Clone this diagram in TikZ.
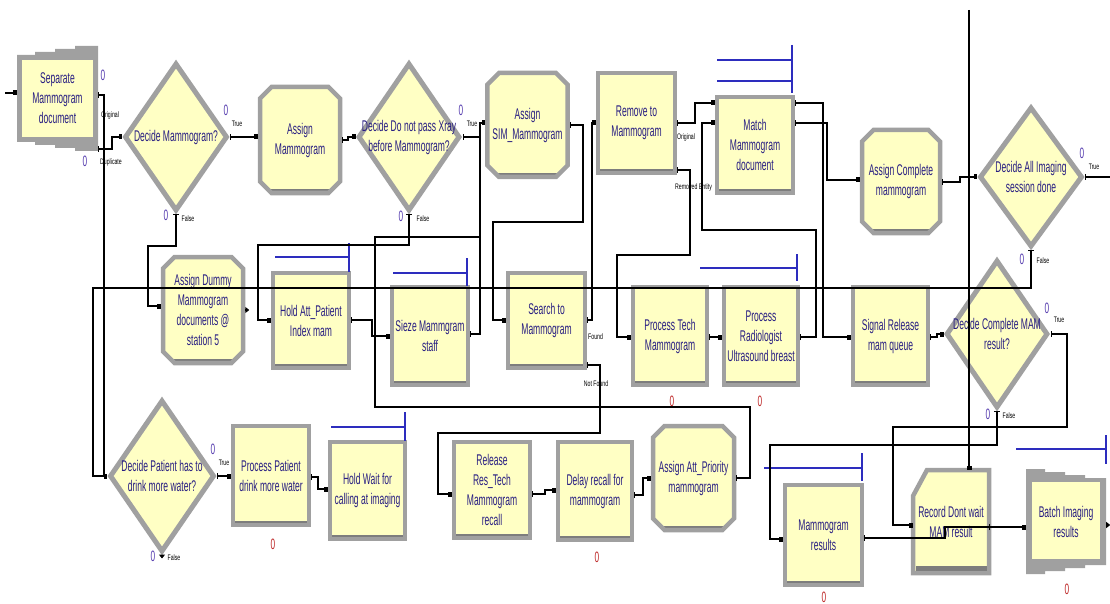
\documentclass[tikz,border=0pt]{standalone}
\usepackage{fontspec}
\setmainfont[FakeStretch=0.55]{Liberation Sans}
\newfontfamily\tagfont[FakeStretch=0.65]{Liberation Sans}
\usetikzlibrary{shapes.geometric,shapes.misc,arrows.meta}

\definecolor{modfill}{RGB}{255,255,196}
\definecolor{frame}{RGB}{160,160,160}
\definecolor{frameshade}{RGB}{125,125,125}
\definecolor{modtext}{RGB}{40,30,130}
\definecolor{qblue}{RGB}{45,45,190}
\definecolor{cntblue}{RGB}{85,60,175}
\definecolor{cntred}{RGB}{190,40,40}

\tikzset{
  modtxt/.style={text=modtext, align=center, inner sep=0pt,
    font=\fontsize{15.5}{20}\selectfont},
  mod/.style={modtxt, rectangle, draw=frame, line width=4.5pt, fill=modfill,
    path picture={\fill[frameshade] (path picture bounding box.south west)
      rectangle ([yshift=4pt]path picture bounding box.south east);}},
  assignmod/.style={mod, chamfered rectangle, chamfered rectangle xsep=5pt,
    chamfered rectangle ysep=6.5pt},
  decide/.style={diamond, draw=frame, line width=5pt, fill=modfill, inner sep=0pt},
  shell/.style={modtxt, rectangle, draw=none},
  frameline/.style={draw=frame, line width=4.5pt, line join=miter},
  conn/.style={draw=black, line width=1.4pt,
    {Bar[width=6pt,line width=1.2pt]}-{Square[length=3.5pt,width=5pt]}},
  connout/.style={draw=black, line width=1.4pt, {Bar[width=6pt,line width=1.2pt]}-},
  connin/.style={draw=black, line width=1.4pt, -{Square[length=3.5pt,width=5pt]}},
  exitonly/.style={draw=black, line width=1.2pt, -{Triangle[length=4pt,width=6pt]}},
  queue/.style={draw=qblue, line width=1.4pt},
  tag/.style={text=black, inner sep=0pt, font=\tagfont\fontsize{8}{9}\selectfont},
  cnt/.style={text=cntblue, inner sep=0pt, font=\fontsize{15}{15}\selectfont},
  cntr/.style={text=cntred, inner sep=0pt, font=\fontsize{15}{15}\selectfont}
}

\begin{document}
\begin{tikzpicture}[x=1pt,y=-1pt]
\fill[white] (0,0) rectangle (1110,604);
\useasboundingbox (0,0) rectangle (1110,604);

% ---------- Separate (stepped frame) ----------
\fill[frame] (17,55) -- (35,55) -- (35,52) -- (55,52) -- (55,49) -- (75,49) -- (75,46)
  -- (98,46) -- (98,151) -- (75,151) -- (75,148) -- (55,148) -- (55,145) -- (35,145)
  -- (35,142) -- (17,142) -- cycle;
\fill[modfill] (22,60) rectangle (93,137);
\node[shell, minimum width=81pt, minimum height=105pt] (SEP) at (57.5,98.5)
  {Separate\\Mammogram\\document};

% ---------- top row ----------
\node[decide, minimum width=103pt, minimum height=148pt] (DM) at (176,137) {};
\node[modtxt] (DMt) at (DM.center) {Decide Mammogram?};
\node[assignmod, minimum width=80pt, minimum height=106pt] (AM) at (300,140) {Assign\\Mammogram};
\node[decide, minimum width=102pt, minimum height=148pt] (DX) at (409,137) {};
\node[modtxt] (DXt) at (DX.center) {Decide Do not pass Xray\\before Mammogram?};
\node[assignmod, minimum width=79pt, minimum height=104pt] (ASIM) at (527.5,125) {Assign\\SIM\_Mammogram};
\node[mod, minimum width=77pt, minimum height=100pt] (REM) at (636.5,123) {Remove to\\Mammogram};
\node[tag, anchor=west] (tRemoved) at (675,187) {Removed Entity};
\node[mod, minimum width=76pt, minimum height=96pt] (MATCH) at (755,145) {Match\\Mammogram\\document};
\node[assignmod, minimum width=78pt, minimum height=103pt] (ACM) at (901,181.5) {Assign Complete\\mammogram};
\node[decide, minimum width=103pt, minimum height=140pt] (DAI) at (1031,177) {};
\node[modtxt] (DAIt) at (DAI.center) {Decide All Imaging\\session done};

% ---------- middle row ----------
\node[assignmod, minimum width=80pt, minimum height=106pt] (ADUM) at (203,310)
  {Assign Dummy\\Mammogram\\documents @\\station 5};
\node[mod, minimum width=76pt, minimum height=95pt] (HOLD1) at (311,320.5) {Hold Att\_Patient\\Index mam};
\node[mod, minimum width=76pt, minimum height=98pt] (SEIZE) at (430,336) {Sieze Mammgram\\staff};
\node[mod, minimum width=77pt, minimum height=95pt] (SEARCH) at (546.5,320.5) {Search to\\Mammogram};
\node[mod, minimum width=74pt, minimum height=98pt] (PTECH) at (670,336) {Process Tech\\Mammogram};
\node[mod, minimum width=74pt, minimum height=98pt] (PRAD) at (761,336) {Process\\Radiologist\\Ultrasound breast};
\node[mod, minimum width=75pt, minimum height=98pt] (SIG) at (890.5,336) {Signal Release\\mam queue};
\node[decide, minimum width=102pt, minimum height=148pt] (DCM) at (997,334) {};
\node[modtxt] (DCMt) at (DCM.center) {Decide Complete MAM\\result?};

% ---------- bottom row ----------
\node[decide, minimum width=105pt, minimum height=152pt] (DPW) at (162,476) {};
\node[modtxt] (DPWt) at (DPW.center) {Decide Patient has to\\drink more water?};
\node[mod, minimum width=76pt, minimum height=99pt] (PPW) at (271,475.5) {Process Patient\\drink more water};
\node[mod, minimum width=75pt, minimum height=97pt] (HOLD2) at (367.5,490.5) {Hold Wait for\\calling at imaging};
\node[mod, minimum width=76pt, minimum height=96pt] (REL) at (492,490) {Release\\Res\_Tech\\Mammogram\\recall};
\node[mod, minimum width=74pt, minimum height=98pt] (DELAY) at (595,491) {Delay recall for\\mammogram};
\node[assignmod, minimum width=81pt, minimum height=104pt] (AAP) at (693.5,478) {Assign Att\_Priority\\mammogram};
\node[mod, minimum width=77pt, minimum height=100pt] (MR) at (823.5,535) {Mammogram\\results};

% Record: cut top-left corner
\filldraw[fill=modfill, frameline] (913,496) -- (927,470) -- (989,470) -- (989,573) -- (913,573) -- cycle;
\fill[frameshade] (915.5,566) rectangle (986.5,570.5);
\node[shell, minimum width=76pt, minimum height=103pt] (REC) at (951,521.5) {Record Dont wait\\MAM result};

% Batch: stepped frame narrowing to the right
\fill[frame] (1026,469) -- (1045,469) -- (1045,472) -- (1065,472) -- (1065,475) -- (1085,475)
  -- (1085,478) -- (1106,478) -- (1106,565) -- (1085,565) -- (1085,568) -- (1065,568)
  -- (1065,571) -- (1045,571) -- (1045,574) -- (1026,574) -- cycle;
\fill[modfill] (1032,482) rectangle (1100,559);
\node[shell, minimum width=80pt, minimum height=105pt] (BATCH) at (1066,521.5) {Batch Imaging\\results};

% ---------- queue graphics ----------
\draw[queue] (717,60) -- (792,60);
\draw[queue] (717,81) -- (792,81);
\draw[queue] (792,45) -- (792,93);
\draw[queue] (275,257) -- (349,257);  \draw[queue] (349,243) -- (349,272);
\draw[queue] (393,273) -- (467,273);  \draw[queue] (467,258) -- (467,286);
\draw[queue] (700,268) -- (797,268);  \draw[queue] (797,254) -- (797,281);
\draw[queue] (331,427) -- (405,427);  \draw[queue] (405,412) -- (405,441);
\draw[queue] (764,468) -- (862,468);  \draw[queue] (862,453) -- (862,481);
\draw[queue] (1016,449) -- (1106,449); \draw[queue] (1106,435) -- (1106,464);

% ---------- connectors ----------
\coordinate (in0) at (5,93);
\coordinate (outR) at (1110,177);
\coordinate (topin) at (969,10);

\draw[connin] (in0) -- (SEP.west |- 0,93);
\draw[conn] (SEP.east |- 0,95) -| (104,476) -- (DPW.west);
\draw[conn] (SEP.east |- 0,149) -| (112,137) -- (DM.west);
\draw[conn] (DM.east) -- (AM.west |- DM.east);
\draw[conn] (DM.south) |- (148,246) |- (ADUM.west |- 0,306);
\draw[conn] (AM.east |- 0,140) -- (348,140) |- (DX.west);
\draw[conn] (DX.east) -- (480,137) |- (ASIM.west |- 0,123);
\draw[conn] (DX.south) |- (258,245) |- (HOLD1.west |- 0,320);
\draw[conn] (HOLD1.east |- 0,320) -- (372,320) |- (SEIZE.west |- 0,336);
\draw[conn] (SEIZE.east |- 0,334) -| (480,123) -- (ASIM.west |- 0,123);
\draw[conn] (AAP.east) -- (750,478) |- (375,407) |- (480,237) -- (480,123) -- (ASIM.west |- 0,123);
\draw[conn] (ASIM.east |- 0,125) -- (583,125) |- (493,222) |- (SEARCH.west |- 0,320);
\draw[conn] (SEARCH.east |- 0,320) -- (592,320) |- (REM.west |- 0,123);
\draw[conn] (SEARCH.east |- 0,365) -- (600,365) |- (438,433) |- (REL.west |- 0,494);
\draw[conn] (REL.east |- 0,494) -- (545,494) |- (DELAY.west |- 0,490);
\draw[conn] (DELAY.east |- 0,495) -- (643,495) |- (AAP.west);
\draw[conn] (REM.east |- 0,123) -- (695,123) |- (MATCH.west |- 0,103);
\draw[conn] (REM.east |- 0,170) -- (690,170) |- (617,255) |- (PTECH.west |- 0,337);
\draw[conn] (PTECH.east |- 0,337) -- (PRAD.west |- 0,337);
\draw[conn] (PRAD.east |- 0,337) -- (816,337) |- (702,230) |- (MATCH.west |- 0,123);
\draw[conn] (MATCH.east |- 0,103) -- (823,103) |- (SIG.west |- 0,337);
\draw[conn] (MATCH.east |- 0,123) -- (827,123) |- (ACM.west |- 0,180);
\draw[conn] (ACM.east |- 0,182) -- (960,182) |- (DAI.west);
\draw[connout] (DAI.east) -- (outR);
\draw[conn] (DAI.south) |- (93,288) |- (DPW.west);
\draw[conn] (SIG.east |- 0,337) -- (937,337) |- (DCM.west);
\draw[conn] (DCM.east) -- (1067,334) |- (893,427) |- (REC.west |- 0,525);
\draw[conn] (DCM.south) |- (770,445) |- (MR.west |- 0,539);
\draw[conn] (MR.east |- 0,538) -- (945,538) |- (BATCH.west |- 0,527);
\draw[conn] (REC.east |- 0,527) -- (BATCH.west |- 0,527);
\draw[connin] (topin) -- (topin |- REC.north);
\draw[conn] (DPW.east) -- (PPW.west |- DPW.east);
\draw[conn] (PPW.east |- 0,477) -- (318,477) |- (HOLD2.west |- 0,489);
\draw[exitonly] (ADUM.east) -- ++(4,0);
\draw[exitonly] (DPW.south) -- ++(0,4);
\draw[exitonly] (BATCH.east |- 0,525) -- ++(4,0);

% ---------- exit labels ----------
\node[cnt] (cSEPa) at (103,75) {0};
\node[tag] (tSEPo) at (110,115) {Original};
\node[cnt] (cSEPb) at (85,161) {0};
\node[tag] (tSEPd) at (111,162) {Duplicate};
\node[cnt] (cDMt) at (226,110) {0};
\node[tag] (tDMt) at (237,124) {True};
\node[cnt] (cDMf) at (166,215) {0};
\node[tag] (tDMf) at (188,219) {False};
\node[cnt] (cDXt) at (461,110) {0};
\node[tag] (tDXt) at (472,124) {True};
\node[cnt] (cDXf) at (401,216) {0};
\node[tag] (tDXf) at (423,219) {False};
\node[tag] (tREMo) at (686,137) {Original};
\node[tag, anchor=west] (tFound) at (588,337) {Found};
\node[tag] (tNotFound) at (596,384) {Not Found};
\node[cnt] (cDAIt) at (1082,153) {0};
\node[tag] (tDAIt) at (1094,167) {True};
\node[cnt] (cDAIf) at (1022,259) {0};
\node[tag] (tDAIf) at (1043,261) {False};
\node[cnt] (cDCMt) at (1047,308) {0};
\node[tag] (tDCMt) at (1059,320) {True};
\node[cnt] (cDCMf) at (988,414) {0};
\node[tag] (tDCMf) at (1009,416) {False};
\node[cnt] (cDPWt) at (213,449) {0};
\node[tag] (tDPWt) at (224,463) {True};
\node[cnt] (cDPWf) at (153,556) {0};
\node[tag] (tDPWf) at (174,558) {False};
\node[cntr] (cPTECH) at (672,401) {0};
\node[cntr] (cPRAD) at (760,401) {0};
\node[cntr] (cPPW) at (273,544) {0};
\node[cntr] (cDELAY) at (597,557) {0};
\node[cntr] (cMR) at (824,597) {0};
\node[cntr] (cBATCH) at (1067,589) {0};
\end{tikzpicture}
\end{document}
